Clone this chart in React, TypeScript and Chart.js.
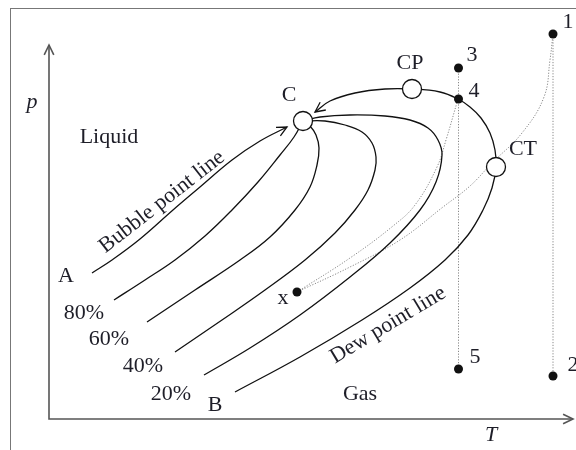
import React, { useEffect, useRef } from "react";
import { Chart, registerables } from "chart.js";
Chart.register(...registerables);

type Pt = [number, number];

// Scale extents (T horizontal, p vertical; arbitrary units)
const T_MIN = -9.8, T_MAX = 105.4, P_MIN = -7.75, P_MAX = 104.75;

const axisLine: Pt[] = [[0, 93.5], [0, 0], [104.8, 0]];
const bubbleLine: Pt[] = [[8.6, 36.5], [12.6, 39.75], [18.2, 45], [24.8, 52.25], [30.2, 58], [36.6, 64.75], [42.2, 69.5], [47.6, 73]];
const quality80: Pt[] = [[13, 29.75], [19.2, 34.75], [25.2, 39.75], [31.2, 45.75], [36.6, 52.25], [41.8, 59.25], [46.2, 66], [49, 70.5], [50.8, 74.5]];
const quality60: Pt[] = [[19.6, 24.25], [29.2, 32.25], [38.2, 39.75], [44.2, 45.5], [49.2, 52.25], [52.2, 58], [53.6, 63.5], [54, 67.75], [53.4, 71], [52.2, 73.25], [50.8, 74.5]];
const quality40: Pt[] = [[25.2, 16.75], [34.6, 24.75], [43.2, 32.25], [51.2, 39.75], [57.2, 46.5], [61.2, 52.25], [63.8, 57.25], [65.2, 62.25], [65.4, 65.5], [64.6, 69], [62.6, 71.75], [59.2, 73.5], [55.2, 74.5], [50.8, 74.5]];
const quality20: Pt[] = [[31, 11], [40.2, 17.75], [50.2, 26], [60.2, 35.5], [68.2, 44], [74.2, 52.25], [77.4, 59.25], [78.6, 66], [77.8, 69.75], [75.8, 72.75], [72.2, 74.75], [67.2, 75.75], [60.2, 76], [54.2, 75.5], [50.8, 74.5]];
const dewLine: Pt[] = [[37.2, 6.75], [50.2, 15.5], [62.6, 24.75], [72.2, 32.75], [79.2, 39.75], [83.8, 46], [86.8, 52.25], [88.6, 57.75], [89.4, 63], [89.2, 67.25], [88.2, 71.5], [86.4, 75.25], [84.2, 78], [81.8, 80], [78.2, 81.75], [72.6, 82.5], [67.2, 82.5], [61.2, 81.5], [56.2, 79.5], [53.2, 76.75]];
const pathXto1: Pt[] = [[49.6, 31.75], [60.2, 38], [70.2, 44.75], [78.8, 53], [84.2, 58.25], [88.6, 64], [94.6, 71.5], [99, 80.5], [100.2, 89.75], [100.8, 96.25]];
const pathXto4: Pt[] = [[49.6, 31.75], [60.2, 40.25], [68.8, 48.25], [73.2, 53.5], [77.6, 63], [79.4, 69.75], [81.8, 80]];
const path3to5: Pt[] = [[81.9, 87.75], [81.9, 12.5]];
const path1to2: Pt[] = [[100.8, 96.25], [100.8, 10.75]];
const statePoints: Pt[] = [[100.8, 96.25], [100.8, 10.75], [81.9, 87.75], [81.9, 80], [81.9, 12.5], [49.6, 31.75]];
const criticalPoints: Pt[] = [[50.8, 74.5], [72.6, 82.5], [89.4, 63]];

const labelTexts = ["p", "Liquid", "C", "CP", "3", "4", "1", "CT", "A", "80%", "60%", "40%", "20%", "B", "x", "Gas", "5", "2", "T", "Bubble point line", "Dew point line"];
const labelAnchors: Pt[] = [[-3.4, 79.25], [12, 70.5], [48, 81], [72.2, 89], [84.6, 91], [85, 82], [103.8, 99.25], [94.8, 67.5], [3.4, 35.75], [7, 26.5], [12, 20], [18.8, 13.25], [24.4, 6.25], [33.2, 3.5], [46.8, 30.25], [62.2, 6.25], [85.2, 15.5], [104.8, 13.5], [88.4, -4], [22.6, 54.25], [67.8, 23.5]];
const labelAngles = [0, 0, 0, 0, 0, 0, 0, 0, 0, 0, 0, 0, 0, 0, 0, 0, 0, 0, 0, -38, -31];
const italicLabels = ["p", "T"];

const toXY = (a: Pt[]) => a.map(([x, y]) => ({ x, y }));

const drawChevron = (ctx: CanvasRenderingContext2D, tipX: number, tipY: number, fromX: number, fromY: number, len: number) => {
  const ang = Math.atan2(tipY - fromY, tipX - fromX);
  const spread = 0.45;
  ctx.beginPath();
  ctx.moveTo(tipX - len * Math.cos(ang - spread), tipY - len * Math.sin(ang - spread));
  ctx.lineTo(tipX, tipY);
  ctx.lineTo(tipX - len * Math.cos(ang + spread), tipY - len * Math.sin(ang + spread));
  ctx.stroke();
};

const decorPlugin = {
  id: "decor",
  beforeDraw(chart: any) {
    const ctx = chart.ctx;
    ctx.save();
    ctx.strokeStyle = "#777";
    ctx.lineWidth = 1;
    ctx.strokeRect(10.5, 8.5, 700, 600);
    ctx.restore();
  },
  afterDatasetsDraw(chart: any) {
    const ctx = chart.ctx;
    ctx.save();
    chart.data.datasets.forEach((ds: any, i: number) => {
      const pts = chart.getDatasetMeta(i).data;
      if (pts.length < 2) return;
      ctx.strokeStyle = ds.borderColor;
      ctx.lineWidth = ds.borderWidth;
      if (ds.arrowEnd) {
        const a = pts[pts.length - 1], b = pts[pts.length - 2];
        drawChevron(ctx, a.x, a.y, b.x, b.y, ds.arrowLen);
      }
      if (ds.arrowStart) {
        const a = pts[0], b = pts[1];
        drawChevron(ctx, a.x, a.y, b.x, b.y, ds.arrowLen);
      }
    });
    const xs = chart.scales.x, ys = chart.scales.y;
    ctx.fillStyle = "#1e1e28";
    ctx.textAlign = "center";
    ctx.textBaseline = "middle";
    labelTexts.forEach((t, i) => {
      const [T, P] = labelAnchors[i];
      const px = xs.getPixelForValue(T), py = ys.getPixelForValue(P);
      ctx.save();
      ctx.translate(px, py);
      ctx.rotate((labelAngles[i] * Math.PI) / 180);
      ctx.font = `${italicLabels.includes(t) ? "italic " : ""}22px "Liberation Serif", "DejaVu Serif", serif`;
      ctx.fillText(t, 0, 0);
      ctx.restore();
    });
    ctx.restore();
  },
};

export default function App() {
  const ref = useRef<HTMLCanvasElement | null>(null);
  useEffect(() => {
    if (!ref.current) return;
    const curve = (data: Pt[], extra: any = {}) => ({
      data: toXY(data),
      showLine: true,
      borderColor: "#111",
      borderWidth: 1.3,
      tension: 0.4,
      pointRadius: 0,
      fill: false,
      clip: false,
      order: 5,
      ...extra,
    });
    const dotted = (data: Pt[], tension: number) =>
      curve(data, { borderColor: "#888", borderWidth: 1, borderDash: [1.2, 1.6], tension, order: 6 });
    const chart = new Chart(ref.current, {
      type: "scatter",
      data: {
        datasets: [
          curve(axisLine, { borderColor: "#555", borderWidth: 1.6, tension: 0, arrowStart: true, arrowEnd: true, arrowLen: 11, order: 7 }),
          curve(bubbleLine, { arrowEnd: true, arrowLen: 11 }),
          curve(quality80),
          curve(quality60),
          curve(quality40),
          curve(quality20),
          curve(dewLine, { arrowEnd: true, arrowLen: 11 }),
          dotted(pathXto1, 0.4),
          dotted(pathXto4, 0.4),
          dotted(path3to5, 0),
          dotted(path1to2, 0),
          {
            data: toXY(statePoints),
            showLine: false,
            pointRadius: 4.5,
            pointBackgroundColor: "#111",
            pointBorderColor: "#111",
            pointBorderWidth: 0,
            clip: false,
            order: 2,
          },
          {
            data: toXY(criticalPoints),
            showLine: false,
            pointRadius: 9.5,
            pointBackgroundColor: "#fff",
            pointBorderColor: "#111",
            pointBorderWidth: 1.3,
            clip: false,
            order: 1,
          },
        ] as any,
      },
      options: {
        responsive: false,
        animation: false,
        events: [],
        layout: { padding: 0, autoPadding: false },
        plugins: { legend: { display: false }, tooltip: { enabled: false } },
        scales: {
          x: { type: "linear", min: T_MIN, max: T_MAX, display: false },
          y: { type: "linear", min: P_MIN, max: P_MAX, display: false },
        },
      },
      plugins: [decorPlugin],
    });
    return () => chart.destroy();
  }, []);
  return (
    <div style={{ position: "absolute", left: 0, top: 0, width: 576, height: 450, background: "#fff" }}>
      <canvas ref={ref} width={576} height={450} />
    </div>
  );
}
